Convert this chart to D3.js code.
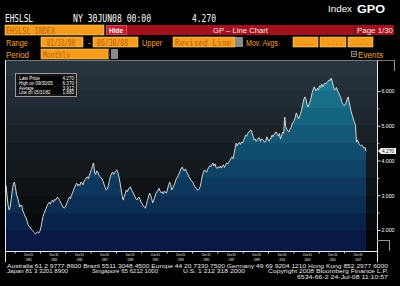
<!DOCTYPE html>
<html><head><meta charset="utf-8">
<script src="https://cdn.jsdelivr.net/npm/d3@7"></script>
<style>html,body{margin:0;padding:0;background:#000;}svg{display:block}</style>
</head><body>
<svg id="c" width="400" height="286"></svg>
<script>
// ---------------- DATA ----------------
const ticker = "EHSLSL";
const startDate = "1980-01-31";   // first monthly observation
const endDate = "2008-06-30";     // last monthly observation
// Existing home sales, single family (millions, SAAR), monthly Jan 1980 - Jun 2008
const values = [
  3.29,3.00,2.72,2.58,2.65,2.90,3.15,3.32,3.38,3.22,3.02,2.92, // 1980
  2.80,2.66,2.72,2.70,2.55,2.48,2.40,2.35,2.25,2.15,2.10,2.08, // 1981
  2.02,1.99,1.95,1.92,1.88,1.93,1.95,1.91,1.96,2.06,2.22,2.38, // 1982
  2.48,2.55,2.62,2.70,2.76,2.80,2.74,2.82,2.86,2.80,2.88,2.86, // 1983
  2.92,2.95,2.90,2.84,2.78,2.72,2.66,2.63,2.65,2.72,2.80,2.88, // 1984
  2.95,2.90,3.00,3.06,3.15,3.22,3.30,3.35,3.27,3.32,3.28,3.38, // 1985
  3.36,3.30,3.40,3.45,3.50,3.53,3.47,3.58,3.66,3.74,3.86,3.93, // 1986
  3.64,3.60,3.70,3.67,3.58,3.54,3.50,3.47,3.40,3.30,3.22,3.15, // 1987
  3.18,3.28,3.42,3.55,3.62,3.67,3.60,3.65,3.70,3.73,3.66,3.52, // 1988
  3.36,3.18,3.00,2.86,2.96,3.05,3.15,3.10,3.18,3.22,3.24,3.14, // 1989
  3.10,3.04,2.97,2.90,2.86,2.92,2.95,2.87,2.80,2.75,2.70,2.66, // 1990
  2.63,2.72,2.85,2.95,3.06,3.00,2.90,2.78,2.86,2.95,3.05,3.10, // 1991
  3.15,3.20,3.12,3.07,3.10,3.04,3.12,3.08,3.06,3.18,3.30,3.38, // 1992
  3.30,3.15,3.20,3.28,3.35,3.45,3.50,3.56,3.62,3.70,3.78,3.81, // 1993
  3.73,3.70,3.76,3.68,3.62,3.55,3.50,3.44,3.40,3.37,3.30,3.24, // 1994
  3.20,3.16,3.15,3.18,3.25,3.40,3.55,3.66,3.73,3.69,3.66,3.75, // 1995
  3.80,3.85,3.82,3.88,3.93,3.85,3.90,3.80,3.77,3.82,3.79,3.84, // 1996
  3.78,3.85,3.88,3.80,3.86,3.93,3.90,3.95,4.00,4.05,4.10,4.05, // 1997
  4.20,4.35,4.50,4.42,4.48,4.52,4.46,4.53,4.50,4.58,4.65,4.73, // 1998
  4.70,4.78,4.82,4.85,4.88,4.80,4.70,4.59,4.62,4.55,4.60,4.65, // 1999
  4.65,4.55,4.62,4.60,4.57,4.52,4.55,4.68,4.62,4.56,4.60,4.65, // 2000
  4.73,4.68,4.75,4.80,4.82,4.75,4.70,4.78,4.62,4.70,4.82,4.78, // 2001
  5.25,4.98,4.90,4.85,4.82,4.90,4.95,5.05,5.10,5.15,5.25,5.37, // 2002
  5.30,5.20,5.25,5.35,5.45,5.60,5.75,5.83,5.78,5.62,5.54,5.62, // 2003
  5.70,5.80,5.95,6.05,6.12,6.05,6.00,6.08,6.03,6.15,6.10,6.20, // 2004
  6.12,6.18,6.23,6.20,6.25,6.28,6.32,6.30,6.37,6.28,6.15,6.03, // 2005
  6.05,6.10,6.02,5.95,5.88,5.82,5.70,5.62,5.58,5.60,5.65,5.75, // 2006
  5.83,5.70,5.55,5.40,5.30,5.20,5.10,5.02,4.53,4.59,4.50,4.45, // 2007
  4.42,4.45,4.40,4.35,4.38,4.27                                  // 2008
];
const yTicks = [2, 3, 4, 5, 6];
const yMinorTicks = [2.5, 3.5, 4.5, 5.5];
const xLabelYears = [1981,1983,1985,1987,1989,1991,1993,1995,1997,1999,2001,2003,2005,2007];
const xMinorYears = [1980,1982,1984,1986,1988,1990,1992,1994,1996,1998,2000,2002,2004,2006];

// ---------------- SETUP ----------------
const svg = d3.select("#c");
const W = 400, H = 286;
const parse = d3.timeParse("%Y-%m-%d");
const t0 = parse(startDate), t1 = parse(endDate);
const data = values.map((v, i) => ({ date: d3.timeMonth.offset(d3.timeMonth.floor(t0), i + 1), v }))
  .map(d => ({ date: d3.timeDay.offset(d.date, -1), v: d.v }));

const plotL = 6, plotR = 377, plotT = 61, plotB = 251;
const x = d3.scaleTime().domain([t0, t1]).range([6, 366]);
const y = d3.scaleLinear().domain([2, 6]).range([230, 91]);

const defs = svg.append("defs");
const mono = "'DejaVu Sans Mono', 'Liberation Mono', monospace";
const sans = "'Liberation Sans', Arial, sans-serif";

svg.append("rect").attr("width", W).attr("height", H).attr("fill", "#000");

// helper
function txt(s, xx, yy, opts = {}) {
  const t = svg.append("text").attr("x", xx).attr("y", yy).text(s)
    .attr("font-family", opts.font || mono)
    .attr("font-size", opts.size || 9)
    .attr("fill", opts.fill || "#fff");
  if (opts.weight) t.attr("font-weight", opts.weight);
  if (opts.len) t.attr("textLength", opts.len).attr("lengthAdjust", "spacingAndGlyphs");
  if (opts.anchor) t.attr("text-anchor", opts.anchor);
  return t;
}
const ORANGE = "#f4a12a", BOXTXT = "#b9640f";
function obox(x0, y0, w, h) {
  svg.append("rect").attr("x", x0).attr("y", y0).attr("width", w).attr("height", h)
    .attr("fill", "#f79d1d").attr("stroke", "#ffd08a").attr("stroke-width", 0.6);
}
function gbox(x0, y0, w, h) {
  svg.append("rect").attr("x", x0).attr("y", y0).attr("width", w).attr("height", h).attr("fill", "#8a8a8a");
}

// ---------------- HEADER ----------------
txt(ticker, 5, 22, { size: 10, len: 28 });
txt("NY 30JUN08 00:00", 73, 22, { size: 10, len: 78 });
txt(d3.format(".3f")(values[values.length - 1]), 192, 22, { size: 10, len: 24 });
txt("Index", 328, 12, { size: 9, len: 24, font: sans });
txt("GPO", 357, 13, { size: 11, len: 28, font: sans, weight: "bold" });

// row 2
obox(5, 25, 99, 10);
txt(ticker + " INDEX", 6, 33.5, { size: 8, len: 49, fill: BOXTXT });
svg.append("rect").attr("x", 106).attr("y", 25).attr("width", 288).attr("height", 10).attr("fill", "#a3111d");
svg.append("rect").attr("x", 106.5).attr("y", 25.5).attr("width", 20).attr("height", 9).attr("fill", "#c21a2b").attr("stroke", "#e66a78").attr("stroke-width", 0.7);
txt("Hide", 109, 33, { size: 8, len: 14, font: sans, weight: "bold" });
txt("GP \u2013 Line Chart", 213, 33, { size: 8, len: 55, font: sans, fill: "#f3e6e6" });
svg.append("line").attr("x1", 354.5).attr("x2", 354.5).attr("y1", 25).attr("y2", 35).attr("stroke", "#4a0a10");
txt("Page 1/30", 357, 33, { size: 8, len: 36, font: sans, fill: "#f3e6e6" });

// row 3
txt("Range", 6, 46, { size: 8.5, len: 22, font: sans, fill: ORANGE });
obox(41, 37, 42, 10);
txt("01/31/80", 47, 45.5, { size: 8, len: 28, fill: BOXTXT });
txt("-", 87, 45.5, { size: 8, fill: ORANGE });
obox(93, 37, 45, 10);
txt("06/30/08", 97, 45.5, { size: 8, len: 31, fill: BOXTXT });
txt("Upper", 142, 46, { size: 8.5, len: 20, font: sans, fill: ORANGE });
obox(173, 37, 62, 10);
txt("Revised Line", 175, 45.5, { size: 8, len: 56, fill: BOXTXT });
gbox(235, 37, 8, 10);
txt("Mov. Avgs", 246, 46, { size: 8.5, len: 32, font: sans, fill: ORANGE });
[[293, 25], [320, 26], [348, 25]].forEach(([bx, bw]) => {
  obox(bx, 37, bw, 10);
  txt(".....", bx + 4, 45, { size: 7, len: bw - 8, fill: BOXTXT });
});

// row 4
txt("Period", 6, 57.5, { size: 8.5, len: 23, font: sans, fill: ORANGE });
obox(41, 49, 68, 10);
svg.append("line").attr("x1", 109).attr("x2", 109).attr("y1", 49).attr("y2", 59).attr("stroke", "#222").attr("stroke-width", 1);
txt("Monthly", 43, 57.5, { size: 8, len: 27, fill: BOXTXT });
gbox(111, 49, 7, 10);
svg.append("rect").attr("x", 351.5).attr("y", 51.5).attr("width", 5).attr("height", 5).attr("fill", "#111").attr("stroke", "#bbb").attr("stroke-width", 0.7);
svg.append("line").attr("x1", 352.5).attr("x2", 355.5).attr("y1", 54).attr("y2", 54).attr("stroke", "#ddd").attr("stroke-width", 0.7);
txt("Events", 358, 57.5, { size: 8.5, len: 25, font: sans, fill: ORANGE });

// ---------------- PLOT BACKGROUND ----------------
const bandEdges = [61, 76, 91, 108, 125, 143, 160, 178, 196, 213, 230, 251];
const bgCol = d3.interpolateRgb("#28353e", "#040506");
for (let i = 0; i < bandEdges.length - 1; i++) {
  svg.append("rect").attr("x", plotL).attr("y", bandEdges[i])
    .attr("width", plotR - plotL).attr("height", bandEdges[i + 1] - bandEdges[i])
    .attr("fill", bgCol(i / (bandEdges.length - 2)));
}
// stepped fill gradient
const grad = defs.append("linearGradient").attr("id", "fillg")
  .attr("gradientUnits", "userSpaceOnUse").attr("x1", 0).attr("x2", 0).attr("y1", plotT).attr("y2", plotB);
const fCol = d3.interpolateRgb("#1c8499", "#061843");
for (let i = 0; i < bandEdges.length - 1; i++) {
  const c = fCol(i / (bandEdges.length - 2));
  grad.append("stop").attr("offset", (bandEdges[i] - plotT) / (plotB - plotT)).attr("stop-color", c);
  grad.append("stop").attr("offset", (bandEdges[i + 1] - plotT) / (plotB - plotT)).attr("stop-color", c);
}

const area = d3.area().x(d => x(d.date)).y0(plotB).y1(d => y(d.v));
const line = d3.line().x(d => x(d.date)).y(d => y(d.v));
svg.append("path").datum(data).attr("d", area).attr("fill", "url(#fillg)");
svg.append("path").datum(data).attr("d", line).attr("fill", "none")
  .attr("stroke", "#d6d6d6").attr("stroke-width", 1).attr("stroke-linejoin", "round");

// frame lines
svg.append("line").attr("x1", 5).attr("x2", 395).attr("y1", 60.5).attr("y2", 60.5).attr("stroke", "#777");
svg.append("line").attr("x1", 5.5).attr("x2", 5.5).attr("y1", 60.5).attr("y2", 262).attr("stroke", "#e8e8e8");
svg.append("line").attr("x1", 377.5).attr("x2", 377.5).attr("y1", 60.5).attr("y2", 262).attr("stroke", "#e8e8e8");
svg.append("line").attr("x1", 394.5).attr("x2", 394.5).attr("y1", 60.5).attr("y2", 71).attr("stroke", "#999");
svg.append("line").attr("x1", 389.5).attr("x2", 389.5).attr("y1", 240).attr("y2", 251).attr("stroke", "#999");
svg.append("line").attr("x1", 377).attr("x2", 390).attr("y1", 240.5).attr("y2", 240.5).attr("stroke", "#999");

// ---------------- LEGEND ----------------
const hiIdx = d3.maxIndex(values), loIdx = d3.minIndex(values);
const fmtD = d3.timeFormat("%m/%d/%y"), f3 = d3.format(".3f");
svg.append("rect").attr("x", 15.5).attr("y", 73.5).attr("width", 61).attr("height", 23)
  .attr("fill", "#050505").attr("stroke", "#9a9a9a").attr("stroke-width", 1);
svg.append("rect").attr("x", 17).attr("y", 75).attr("width", 58).attr("height", 20)
  .attr("fill", "none").attr("stroke", "#555").attr("stroke-width", 0.5);
const legRows = [
  ["Last Price", f3(values[values.length - 1])],
  ["High on " + fmtD(data[hiIdx].date), f3(values[hiIdx])],
  ["Average", f3(d3.mean(values))],
  ["Low on " + fmtD(data[loIdx].date), f3(values[loIdx])]
];
legRows.forEach((r, i) => {
  txt(r[0], 19, 80 + i * 4.8, { size: 4.6, font: sans, len: r[0].length * 2.1 });
  txt(r[1], 74, 80 + i * 4.8, { size: 4.6, font: sans, anchor: "end" });
});

// ---------------- Y AXIS (right) ----------------
const yAx = svg.append("g").attr("transform", "translate(377.5,0)")
  .call(d3.axisRight(y).tickValues(yTicks).tickSize(3).tickPadding(1).tickFormat(d3.format(".3f")));
yAx.select(".domain").remove();
yAx.selectAll("line").attr("stroke", "#ddd");
yAx.selectAll("text").attr("fill", "#fff").attr("font-family", sans).attr("font-size", 6)
  .attr("textLength", 13).attr("lengthAdjust", "spacingAndGlyphs");
const yAx2 = svg.append("g").attr("transform", "translate(377.5,0)")
  .call(d3.axisRight(y).tickValues(yMinorTicks).tickSize(2).tickFormat(""));
yAx2.select(".domain").remove();
yAx2.selectAll("line").attr("stroke", "#bbb");

// last value marker
const ly = y(values[values.length - 1]);
svg.append("path").attr("d", `M378,${ly} L381,${ly - 3} L396,${ly - 3} L396,${ly + 3} L381,${ly + 3} Z`).attr("fill", "#f2f2f2");
txt(f3(values[values.length - 1]), 382, ly + 2, { size: 5.5, font: sans, fill: "#111", len: 12 });

// ---------------- X AXIS ----------------
svg.append("line").attr("x1", 5).attr("x2", 378).attr("y1", 251.5).attr("y2", 251.5).attr("stroke", "#e8e8e8");
const yearEnd = yr => new Date(yr, 11, 31);
const xAx = svg.append("g").attr("transform", "translate(0,251.5)")
  .call(d3.axisBottom(x).tickValues(xLabelYears.map(yearEnd)).tickSize(0).tickPadding(0).tickFormat(""));
xAx.select(".domain").remove();
xAx.selectAll(".tick").each(function (d) {
  const g = d3.select(this);
  g.append("text").text("Dec31").attr("x", -2).attr("y", 4.2).attr("text-anchor", "middle")
    .attr("fill", "#eee").attr("font-family", sans).attr("font-size", 4.1)
    .attr("textLength", 9).attr("lengthAdjust", "spacingAndGlyphs");
  g.append("text").text(d.getFullYear()).attr("x", -2).attr("y", 9.4).attr("text-anchor", "middle")
    .attr("fill", "#eee").attr("font-family", sans).attr("font-size", 4.1)
    .attr("textLength", 6).attr("lengthAdjust", "spacingAndGlyphs");
});
const xAx2 = svg.append("g").attr("transform", "translate(0,251.5)")
  .call(d3.axisBottom(x).tickValues(xMinorYears.map(yearEnd)).tickSize(2).tickFormat(""));
xAx2.select(".domain").remove();
xAx2.selectAll("line").attr("stroke", "#ddd").attr("transform", "translate(-3,0)");

// ---------------- FOOTER ----------------
const fopt = (len) => ({ size: 6, font: sans, fill: "#e6e6e6", len });
txt("Australia 61 2 9777 8600 Brazil 5511 3048 4500 Europe 44 20 7330 7500 Germany 49 69 9204 1210 Hong Kong 852 2977 6000", 7, 267.6, fopt(381));
txt("Japan 81 3 3201 8900", 7, 273.2, fopt(61));
txt("Singapore 65 6212 1000", 92, 273.2, fopt(66));
txt("U.S. 1 212 318 2000", 183, 273.2, fopt(62));
txt("Copyright 2008 Bloomberg Finance L.P.", 268, 273.2, fopt(120));
txt("6534-66-2 24-Jul-08 11:10:57", 297, 279, fopt(91));
</script>
</body></html>
